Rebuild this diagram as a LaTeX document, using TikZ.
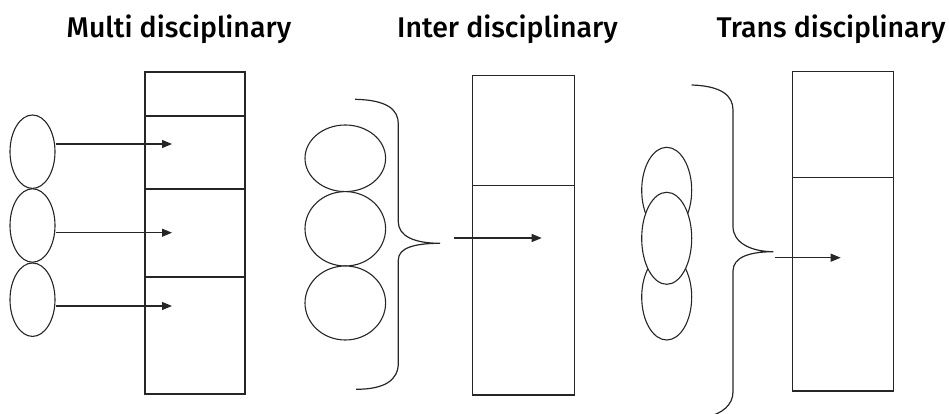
\documentclass[tikz,border=0pt]{standalone}
\usepackage{fontspec}
\setmainfont{Fira Sans}
\newfontfamily\headfont{Fira Sans Medium}
\usetikzlibrary{shapes.geometric,arrows.meta}
\begin{document}
\begin{tikzpicture}[x=1pt,y=-1pt,
  ink/.style={draw=black!85, line width=1.1pt},
  title/.style={anchor=base, inner sep=0pt, font=\headfont\fontsize{28.5}{32}\selectfont},
  disc/.style={ink, ellipse, inner sep=0pt, fill=white},
  column/.style={ink, rectangle, inner sep=0pt},
  flow/.style={ink, -{Triangle[length=10pt,width=8pt]}},
  brace/.style={ink, line width=1.2pt}]
\useasboundingbox (0,0) rectangle (949,414);

% ---------- headings ----------
\node[title] (t1) at (179,38)   {Multi disciplinary};
\node[title] (t2) at (507.5,38) {Inter disciplinary};
\node[title] (t3) at (831,38)   {Trans disciplinary};

% ---------- multi disciplinary ----------
\node[column, minimum width=100pt, minimum height=322pt] (r1) at (195,233) {};
\draw[ink] (r1.west |- 0,116) -- (r1.east |- 0,116);
\draw[ink] (r1.west |- 0,189) -- (r1.east |- 0,189);
\draw[ink] (r1.west |- 0,277) -- (r1.east |- 0,277);

\node[disc, minimum width=45pt, minimum height=73.4pt] (m1) at (32.5,151.7) {};
\node[disc, minimum width=45pt, minimum height=73.4pt] (m2) at (32.5,225.5) {};
\node[disc, minimum width=45pt, minimum height=73.4pt] (m3) at (32.5,299.7) {};

\coordinate (e1) at (172,144);
\coordinate (e2) at (172,232.7);
\coordinate (e3) at (172,306);
\draw[flow] (m1.east |- e1) -- (e1);
\draw[flow] (m2.east |- e2) -- (e2);
\draw[flow] (m3.east |- e3) -- (e3);

% ---------- inter disciplinary ----------
\node[column, minimum width=101.6pt, minimum height=319.3pt] (r2) at (523.5,235.35) {};
\draw[ink] (r2.west |- 0,185.7) -- (r2.east |- 0,185.7);

\node[disc, minimum width=80.6pt, minimum height=66.6pt] (c1) at (345.3,158.3) {};
\node[disc, minimum width=80.6pt, minimum height=74.4pt] (c2) at (345.3,228.8) {};
\node[disc, minimum width=80.6pt, minimum height=74pt]   (c3) at (345.3,303) {};

\coordinate (b2) at (440,243.3);
\draw[brace] (355,99.3) .. controls (388,100) and (398.3,110) .. (398.3,124)
  -- (398.3,221.7) .. controls (398.3,236) and (414,243.3) .. (b2)
  .. controls (414,243.3) and (398.3,248) .. (398.3,260)
  -- (398.3,363) .. controls (398.3,380) and (385,389.3) .. (356,389.3);

\coordinate (s2) at (454,238);
\coordinate (e4) at (541.7,238);
\draw[flow] (s2) -- (e4);

% ---------- trans disciplinary ----------
\node[column, minimum width=101pt, minimum height=319.3pt] (r3) at (842.8,231.35) {};
\draw[ink] (r3.west |- 0,177.3) -- (r3.east |- 0,177.3);

\node[disc, minimum width=50pt, minimum height=86pt] (d1) at (666.7,190.3) {};
\node[disc, minimum width=50pt, minimum height=86pt] (d3) at (666.7,297) {};
\node[disc, minimum width=50pt, minimum height=92pt] (d2) at (666.7,238.3) {};

\coordinate (b3) at (773.3,251.7);
\draw[brace] (691.7,85) .. controls (722,86) and (733,96) .. (733,110)
  -- (733,226.7) .. controls (733,242) and (750,251.7) .. (b3)
  .. controls (750,251.7) and (733,257) .. (733,271)
  -- (733,391.7) .. controls (733,405) and (722,414) .. (706,417);

\coordinate (s3) at (775,257.7);
\coordinate (e5) at (840.7,257.7);
\draw[flow] (s3) -- (e5);
\end{tikzpicture}
\end{document}
